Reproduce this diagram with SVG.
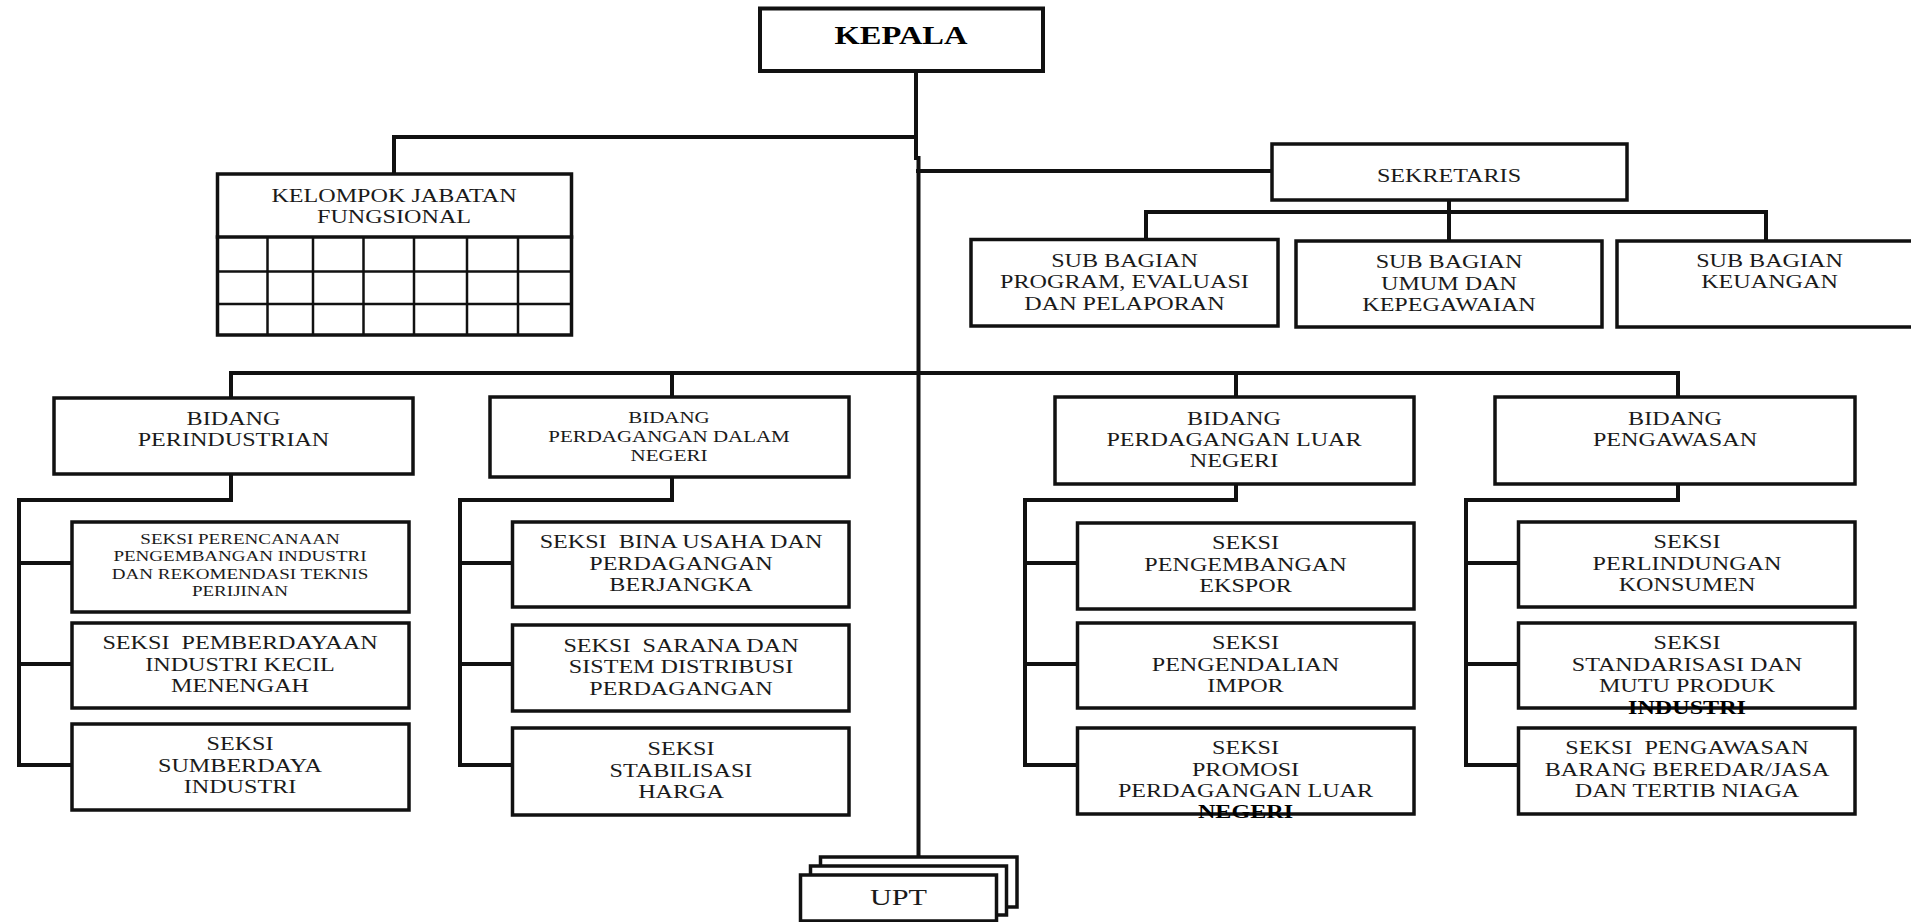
<svg xmlns="http://www.w3.org/2000/svg" width="1911" height="922" viewBox="0 0 1911 922">
<style>
.bg{fill:#ffffff}
.box{fill:#ffffff;stroke:#111;stroke-width:3.5}
.kbox{fill:#ffffff;stroke:#111;stroke-width:4}
.grid{stroke:#111;stroke-width:2.5;fill:none}
.con{stroke:#111;stroke-width:4;fill:none;stroke-linecap:square}
.t{font-family:"Liberation Serif","Times New Roman",serif;font-size:19px;fill:#1a1a1a;text-anchor:middle;white-space:pre}
.s{font-size:15px}
.m{font-size:16.5px}
.k{font-size:25px;font-weight:bold;fill:#000}
.u{font-size:24px}
.b{font-weight:bold;fill:#000}
</style>
<rect class="bg" x="0" y="0" width="1911" height="922"/>

<g id="connectors">
  <polyline class="con" points="916,71 916,158"/>
  <polyline class="con" points="918.5,158 918.5,856"/>
  <polyline class="con" points="394,174 394,137 916,137"/>
  <polyline class="con" points="918,171 1272,171"/>
  <polyline class="con" points="1449,200 1449,240"/>
  <polyline class="con" points="1146,240 1146,212 1766,212 1766,240"/>
  <polyline class="con" points="231,397 231,373 1678,373 1678,397"/>
  <polyline class="con" points="672,373 672,397"/>
  <polyline class="con" points="1236,373 1236,397"/>
  <polyline class="con" points="231,474 231,500 19,500 19,765 72,765"/>
  <polyline class="con" points="19,563 72,563"/>
  <polyline class="con" points="19,664 72,664"/>
  <polyline class="con" points="672,477 672,500 460,500 460,765 512,765"/>
  <polyline class="con" points="460,563 512,563"/>
  <polyline class="con" points="460,664 512,664"/>
  <polyline class="con" points="1236,484 1236,500 1025,500 1025,765 1077,765"/>
  <polyline class="con" points="1025,563 1077,563"/>
  <polyline class="con" points="1025,664 1077,664"/>
  <polyline class="con" points="1678,484 1678,500 1466,500 1466,765 1518,765"/>
  <polyline class="con" points="1466,563 1518,563"/>
  <polyline class="con" points="1466,664 1518,664"/>
</g>

<g id="kepala">
  <rect class="kbox" x="760" y="8.5" width="283" height="62.5"/>
  <text class="t k" transform="translate(901,0) scale(1.3,1)"><tspan x="0" y="44">KEPALA</tspan></text>
</g>

<g id="kelompok-jabatan-fungsional">
  <rect class="box" x="217.5" y="174" width="354" height="161"/>
  <line class="con" x1="217.5" y1="237" x2="571.5" y2="237" style="stroke-width:3.5"/>
  <line class="grid" x1="217.5" y1="271.5" x2="571.5" y2="271.5"/>
  <line class="grid" x1="217.5" y1="304" x2="571.5" y2="304"/>
  <line class="grid" x1="267.5" y1="237" x2="267.5" y2="335"/>
  <line class="grid" x1="313" y1="237" x2="313" y2="335"/>
  <line class="grid" x1="363.5" y1="237" x2="363.5" y2="335"/>
  <line class="grid" x1="414" y1="237" x2="414" y2="335"/>
  <line class="grid" x1="467" y1="237" x2="467" y2="335"/>
  <line class="grid" x1="518" y1="237" x2="518" y2="335"/>
  <text class="t" transform="translate(394,0) scale(1.27,1)"><tspan x="0" y="202">KELOMPOK JABATAN</tspan><tspan x="0" y="223">FUNGSIONAL</tspan></text>
</g>

<g id="sekretaris">
  <rect class="box" x="1272" y="144" width="355" height="56"/>
  <text class="t" transform="translate(1449,0) scale(1.27,1)"><tspan x="0" y="182">SEKRETARIS</tspan></text>
</g>

<g id="subbag-program">
  <rect class="box" x="971" y="239.5" width="307" height="86.5"/>
  <text class="t" transform="translate(1124.5,0) scale(1.27,1)"><tspan x="0" y="267">SUB BAGIAN</tspan><tspan x="0" y="288.5">PROGRAM, EVALUASI</tspan><tspan x="0" y="310">DAN PELAPORAN</tspan></text>
</g>

<g id="subbag-umum">
  <rect class="box" x="1296" y="241" width="306" height="86"/>
  <text class="t" transform="translate(1449,0) scale(1.27,1)"><tspan x="0" y="268.5">SUB BAGIAN</tspan><tspan x="0" y="290">UMUM DAN</tspan><tspan x="0" y="311.5">KEPEGAWAIAN</tspan></text>
</g>

<g id="subbag-keuangan">
  <rect class="box" x="1617" y="241" width="300" height="86"/>
  <text class="t" transform="translate(1769.5,0) scale(1.27,1)"><tspan x="0" y="267">SUB BAGIAN</tspan><tspan x="0" y="288.5">KEUANGAN</tspan></text>
</g>

<g id="bidang-perindustrian">
  <rect class="box" x="54" y="398" width="359" height="76"/>
  <text class="t" transform="translate(233.5,0) scale(1.27,1)"><tspan x="0" y="425">BIDANG</tspan><tspan x="0" y="446">PERINDUSTRIAN</tspan></text>
</g>

<g id="bidang-perdagangan-dalam-negeri">
  <rect class="box" x="490" y="397" width="359" height="80"/>
  <text class="t m" transform="translate(669,0) scale(1.27,1)"><tspan x="0" y="423">BIDANG</tspan><tspan x="0" y="442">PERDAGANGAN DALAM</tspan><tspan x="0" y="461">NEGERI</tspan></text>
</g>

<g id="bidang-perdagangan-luar-negeri">
  <rect class="box" x="1055" y="397" width="359" height="87"/>
  <text class="t" transform="translate(1234,0) scale(1.27,1)"><tspan x="0" y="425">BIDANG</tspan><tspan x="0" y="446">PERDAGANGAN LUAR</tspan><tspan x="0" y="467">NEGERI</tspan></text>
</g>

<g id="bidang-pengawasan">
  <rect class="box" x="1495" y="397" width="360" height="87"/>
  <text class="t" transform="translate(1675,0) scale(1.27,1)"><tspan x="0" y="425">BIDANG</tspan><tspan x="0" y="446">PENGAWASAN</tspan></text>
</g>

<g id="seksi-perencanaan">
  <rect class="box" x="72" y="522" width="337" height="90"/>
  <text class="t s" transform="translate(240,0) scale(1.27,1)"><tspan x="0" y="544">SEKSI PERENCANAAN</tspan><tspan x="0" y="561.5">PENGEMBANGAN INDUSTRI</tspan><tspan x="0" y="579">DAN REKOMENDASI TEKNIS</tspan><tspan x="0" y="596.5">PERIJINAN</tspan></text>
</g>

<g id="seksi-pemberdayaan">
  <rect class="box" x="72" y="623" width="337" height="85"/>
  <text class="t" transform="translate(240,0) scale(1.27,1)"><tspan x="0" y="649.5">SEKSI  PEMBERDAYAAN</tspan><tspan x="0" y="671">INDUSTRI KECIL</tspan><tspan x="0" y="692.5">MENENGAH</tspan></text>
</g>

<g id="seksi-sumberdaya">
  <rect class="box" x="72" y="724" width="337" height="86"/>
  <text class="t" transform="translate(240,0) scale(1.27,1)"><tspan x="0" y="750.5">SEKSI</tspan><tspan x="0" y="772">SUMBERDAYA</tspan><tspan x="0" y="793.5">INDUSTRI</tspan></text>
</g>

<g id="seksi-bina-usaha">
  <rect class="box" x="512.5" y="522" width="336.5" height="85"/>
  <text class="t" transform="translate(681,0) scale(1.27,1)"><tspan x="0" y="548.5">SEKSI  BINA USAHA DAN</tspan><tspan x="0" y="570">PERDAGANGAN</tspan><tspan x="0" y="591.5">BERJANGKA</tspan></text>
</g>

<g id="seksi-sarana">
  <rect class="box" x="512.5" y="625" width="336.5" height="86"/>
  <text class="t" transform="translate(681,0) scale(1.27,1)"><tspan x="0" y="652">SEKSI  SARANA DAN</tspan><tspan x="0" y="673.5">SISTEM DISTRIBUSI</tspan><tspan x="0" y="695">PERDAGANGAN</tspan></text>
</g>

<g id="seksi-stabilisasi">
  <rect class="box" x="512.5" y="728" width="336.5" height="87"/>
  <text class="t" transform="translate(681,0) scale(1.27,1)"><tspan x="0" y="755.5">SEKSI</tspan><tspan x="0" y="777">STABILISASI</tspan><tspan x="0" y="798.5">HARGA</tspan></text>
</g>

<g id="seksi-ekspor">
  <rect class="box" x="1077.5" y="523" width="336.5" height="86"/>
  <text class="t" transform="translate(1245.5,0) scale(1.27,1)"><tspan x="0" y="549.5">SEKSI</tspan><tspan x="0" y="571">PENGEMBANGAN</tspan><tspan x="0" y="592.5">EKSPOR</tspan></text>
</g>

<g id="seksi-impor">
  <rect class="box" x="1077.5" y="623" width="336.5" height="85"/>
  <text class="t" transform="translate(1245.5,0) scale(1.27,1)"><tspan x="0" y="649.5">SEKSI</tspan><tspan x="0" y="671">PENGENDALIAN</tspan><tspan x="0" y="692.5">IMPOR</tspan></text>
</g>

<g id="seksi-promosi">
  <rect class="box" x="1077.5" y="728" width="336.5" height="86"/>
  <text class="t" transform="translate(1245.5,0) scale(1.27,1)"><tspan x="0" y="754.5">SEKSI</tspan><tspan x="0" y="776">PROMOSI</tspan><tspan x="0" y="797.5">PERDAGANGAN LUAR</tspan><tspan x="0" y="818.5" class="b">NEGERI</tspan></text>
</g>

<g id="seksi-perlindungan">
  <rect class="box" x="1518.5" y="522" width="336.5" height="85"/>
  <text class="t" transform="translate(1687,0) scale(1.27,1)"><tspan x="0" y="548.5">SEKSI</tspan><tspan x="0" y="570">PERLINDUNGAN</tspan><tspan x="0" y="591.5">KONSUMEN</tspan></text>
</g>

<g id="seksi-standarisasi">
  <rect class="box" x="1518.5" y="623" width="336.5" height="85"/>
  <text class="t" transform="translate(1687,0) scale(1.27,1)"><tspan x="0" y="649.5">SEKSI</tspan><tspan x="0" y="671">STANDARISASI DAN</tspan><tspan x="0" y="692.5">MUTU PRODUK</tspan><tspan x="0" y="714.5" class="b">INDUSTRI</tspan></text>
</g>

<g id="seksi-pengawasan-barang">
  <rect class="box" x="1518.5" y="728" width="336.5" height="86"/>
  <text class="t" transform="translate(1687,0) scale(1.27,1)"><tspan x="0" y="754.5">SEKSI  PENGAWASAN</tspan><tspan x="0" y="776">BARANG BEREDAR/JASA</tspan><tspan x="0" y="797.5">DAN TERTIB NIAGA</tspan></text>
</g>

<g id="upt">
  <rect class="box" x="820.5" y="857" width="196.5" height="50"/>
  <rect class="box" x="810.5" y="866" width="196" height="49"/>
  <rect class="box" x="800.5" y="875" width="196" height="46"/>
  <text class="t u" transform="translate(898.5,0) scale(1.26,1)"><tspan x="0" y="905">UPT</tspan></text>
</g>
</svg>
